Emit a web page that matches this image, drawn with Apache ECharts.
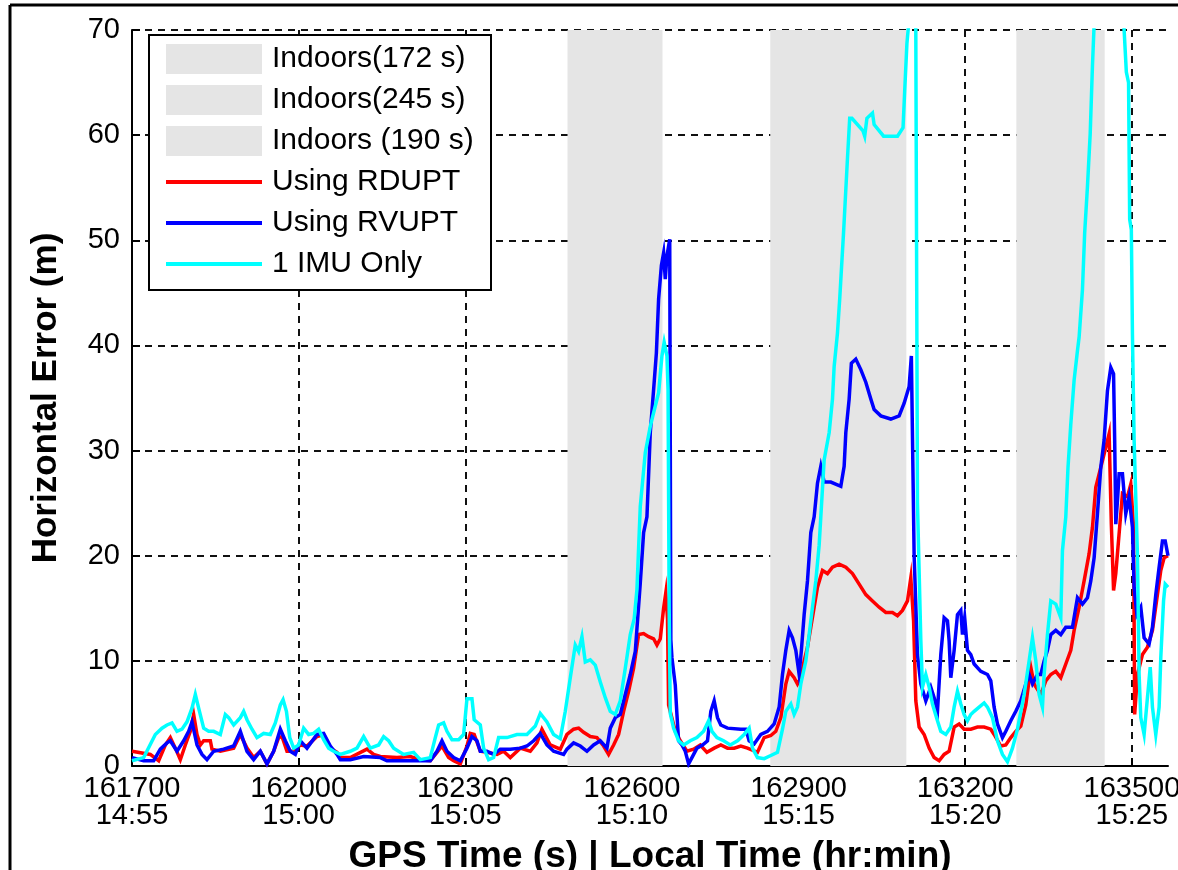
<!DOCTYPE html>
<html>
<head>
<meta charset="utf-8">
<script src="https://cdn.jsdelivr.net/npm/echarts@6/dist/echarts.min.js"></script>
<style>
html,body{margin:0;padding:0;background:#fff;}
#chart{width:1178px;height:870px;}
</style>
</head>
<body>
<div id="chart"></div>
<script>
// ---- tick labels ----
const xTicks = [161700, 162000, 162300, 162600, 162900, 163200, 163500];
const localTimes = ['14:55', '15:00', '15:05', '15:10', '15:15', '15:20', '15:25'];

// ---- indoor periods (GPS s) ----
const indoorNames = ['Indoors(172 s)', 'Indoors(245 s)', 'Indoors (190 s)'];
const indoorIntervals = [[162484, 162655], [162849, 163094], [163292, 163451]];

// ---- series names ----
const lineNames = ['Using RDUPT', 'Using RVUPT', '1 IMU Only'];

// ---- Using RDUPT: [GPS time, horizontal error] ----
const rdupt = [
[161700,1.4],[161733,1.1],[161748,0.5],[161760,2.0],[161769,2.7],[161778,1.7],[161787,0.6],[161796,2.0],[161805,3.3],[161811,4.9],[161817,3.0],[161823,2.0],[161829,2.4],[161841,2.4],[161844,1.6],[161859,1.4],[161883,1.7],[161895,3.0],[161907,1.7],[161919,0.8],[161931,1.4],[161943,0.2],[161955,1.4],[161964,2.7],[161970,2.8],[161979,1.4],[161991,1.4],[162003,2.0],[162015,1.9],[162033,2.8],[162045,3.0],[162057,1.7],[162069,1.3],
[162075,0.8],[162093,0.8],[162123,1.6],[162135,1.1],[162147,0.9],[162177,0.8],[162201,0.9],[162219,0.6],[162237,0.5],[162249,1.3],[162258,1.9],[162270,0.8],[162279,0.5],[162291,0.2],[162303,1.9],[162309,3.1],[162316,3.0],[162327,1.4],[162339,1.3],[162357,1.1],[162369,1.4],[162381,0.8],[162399,1.7],[162417,1.4],[162429,2.2],[162438,3.5],[162453,2.0],[162471,1.6],
[162483,3.0],[162495,3.5],[162504,3.6],[162513,3.2],[162525,2.8],[162537,2.7],[162549,1.9],[162558,1.1],[162567,2.0],[162576,3.0],[162585,5.2],[162594,7.1],[162603,9.3],[162612,12.5],[162621,12.6],[162630,12.3],[162639,12.1],[162645,11.5],[162651,12.1],[162657,15.0],[162661,16.5],[162664,14.0],[162666,5.8],[162678,3.3],[162687,2.4],[162699,1.4],[162711,1.6],[162723,2.0],[162735,1.3],[162748,1.7],[162760,2.0],[162772,1.7],[162784,1.7],[162796,1.9],
[162808,1.7],[162826,1.3],[162838,2.7],[162850,2.9],[162859,3.3],[162868,4.6],[162877,7.8],[162883,9.0],[162892,8.4],[162898,7.8],[162904,8.4],[162910,10.0],[162916,11.3],[162922,13.2],[162928,15.1],[162934,17.0],[162943,18.6],[162952,18.3],[162961,18.9],[162973,19.2],[162985,18.9],[162997,18.3],[163009,17.3],[163021,16.3],[163033,15.7],[163045,15.1],[163057,14.6],[163069,14.6],[163078,14.3],[163087,14.8],[163096,15.7],[163102,17.9],[163107,13.8],[163111,6.2],[163117,3.7],[163126,3.0],[163135,1.7],[163144,0.8],[163153,0.5],[163162,1.1],[163171,1.4],[163180,3.7],[163189,4.0],[163198,3.5],[163210,3.5],[163222,3.7],[163234,3.7],[163246,3.5],[163252,3.0],[163264,1.9],[163273,2.0],[163282,2.7],[163291,3.3],[163300,3.8],[163309,5.8],[163318,9.4],[163324,7.8],[163336,6.8],[163345,8.1],[163354,8.7],[163363,9.0],[163372,8.4],[163381,9.7],[163390,11.0],[163396,12.9],[163405,15.1],[163414,17.6],[163423,20.2],[163429,22.7],[163435,26.5],[163444,28.4],[163453,30.3],[163459,31.6],[163463,23.0],[163467,16.7],[163471,18.3],[163474,20.2],[163483,25.9],[163492,25.6],[163498,26.8],[163503,22.7],[163505,4.9],[163510,8.7],[163519,10.6],[163528,11.3],[163537,12.9],[163546,16.3],[163552,18.6],[163558,19.8],[163565,20.0]
];

// ---- Using RVUPT ----
const rvupt = [
[161700,0.8],[161721,0.5],[161739,0.5],[161751,1.6],[161763,2.2],[161769,2.4],[161781,1.4],[161793,2.4],[161802,3.3],[161808,4.2],[161817,2.0],[161826,1.1],[161835,0.6],[161847,1.4],[161865,1.6],[161883,1.9],[161895,3.3],[161907,1.4],[161919,0.6],[161931,1.4],[161943,0.2],[161955,1.4],[161967,3.5],[161976,2.4],[161985,1.4],[161994,1.1],[162003,2.4],[162015,1.7],[162033,3.0],[162045,3.1],[162057,1.9],[162069,1.1],
[162075,0.6],[162093,0.6],[162117,0.9],[162147,0.8],[162159,0.5],[162177,0.5],[162207,0.5],[162237,0.5],[162249,1.4],[162258,2.4],[162267,1.4],[162279,0.8],[162291,0.5],[162303,1.7],[162312,2.8],[162321,2.4],[162327,1.4],[162339,1.4],[162351,1.1],[162363,1.6],[162381,1.6],[162399,1.7],[162411,1.9],[162423,2.4],[162435,3.1],[162447,2.0],[162459,1.4],[162477,1.1],
[162483,1.6],[162495,2.2],[162507,1.9],[162519,1.4],[162531,2.0],[162543,2.4],[162555,1.7],[162561,3.6],[162570,4.6],[162579,4.9],[162588,6.8],[162597,8.7],[162606,10.9],[162615,17.4],[162621,22.2],[162627,23.7],[162633,31.7],[162639,35.8],[162644,39.3],[162648,44.4],[162653,47.6],[162657,48.8],[162660,46.3],[162663,48.5],[162668,50.1],[162670,12.0],[162672,10.3],[162678,7.7],[162681,4.9],[162684,2.4],[162690,2.0],[162696,1.4],[162702,0.2],[162708,0.8],[162717,1.7],[162727,2.0],[162736,2.4],[162742,5.2],[162748,6.2],[162754,4.6],[162760,3.9],[162772,3.6],[162796,3.5],[162805,3.5],[162811,2.4],[162820,2.1],[162832,3.0],[162844,3.3],[162856,4.0],[162865,5.6],[162871,8.7],[162877,11.0],[162883,12.9],[162889,12.2],[162895,11.0],[162901,8.7],[162905,11.0],[162910,14.4],[162916,17.6],[162922,22.2],[162928,23.7],[162934,26.9],[162940,28.5],[162946,27.0],[162958,27.0],[162976,26.6],[162982,28.5],[162985,31.7],[162991,34.9],[162995,38.3],[163003,38.7],[163012,37.7],[163021,36.5],[163030,34.9],[163036,33.9],[163048,33.3],[163066,33.0],[163081,33.3],[163090,34.5],[163099,36.1],[163103,39.0],[163108,20.0],[163114,10.6],[163120,7.8],[163129,6.2],[163138,7.5],[163144,6.5],[163150,5.2],[163156,10.6],[163162,14.1],[163168,13.8],[163171,11.9],[163174,8.4],[163180,11.0],[163186,14.4],[163192,14.8],[163195,12.5],[163199,14.1],[163204,11.0],[163210,10.6],[163216,9.7],[163228,9.0],[163240,8.7],[163246,8.1],[163252,5.6],[163258,4.0],[163267,2.7],[163273,3.3],[163282,4.3],[163291,5.2],[163300,6.2],[163309,7.8],[163315,8.7],[163321,7.8],[163330,8.7],[163336,8.7],[163342,10.0],[163348,11.0],[163354,12.5],[163363,12.9],[163372,12.5],[163381,13.2],[163393,13.2],[163402,16.0],[163411,15.4],[163420,16.0],[163426,17.6],[163432,19.8],[163438,24.0],[163444,28.4],[163450,31.0],[163456,35.7],[163462,37.9],[163467,37.3],[163469,31.0],[163471,23.0],[163474,25.2],[163477,27.8],[163483,27.8],[163489,24.0],[163495,25.6],[163501,22.7],[163504,17.0],[163509,14.4],[163516,15.1],[163522,12.2],[163531,11.6],[163537,13.2],[163543,16.3],[163549,18.9],[163555,21.4],[163560,21.4],[163565,20.0]
];

// ---- 1 IMU Only ----
const imuOnly = [
[161700,0.5],[161721,0.8],[161742,3.0],[161754,3.6],[161763,3.9],[161772,4.1],[161781,3.3],[161790,3.5],[161799,4.2],[161808,5.5],[161814,6.8],[161820,5.5],[161829,3.6],[161838,3.3],[161847,3.3],[161859,3.0],[161868,4.9],[161874,4.6],[161883,3.9],[161895,4.6],[161901,5.2],[161907,4.4],[161916,3.5],[161925,2.7],[161937,3.1],[161949,3.0],[161958,4.1],[161967,5.8],[161972,6.3],[161978,5.2],[161984,2.7],[161991,1.7],[162000,2.0],[162009,3.6],[162018,3.0],[162027,3.1],[162036,3.5],[162045,2.5],[162054,1.7],[162063,1.4],[162075,1.1],[162093,1.4],[162105,1.7],[162117,2.8],[162129,1.7],[162144,2.0],[162153,2.8],[162162,2.4],[162171,1.7],[162189,1.1],[162207,1.3],[162219,0.6],[162237,0.8],[162246,2.7],[162252,3.9],[162261,4.1],[162267,3.3],[162276,2.5],[162288,2.5],[162297,3.0],[162303,6.4],[162312,6.4],[162316,4.4],[162327,3.9],[162333,1.7],[162342,0.6],[162351,0.8],[162360,2.7],[162375,2.7],[162393,3.0],[162411,3.0],[162426,3.8],[162435,5.0],[162447,4.2],[162459,3.0],[162471,2.6],[162480,5.2],[162489,8.4],[162498,11.5],[162504,10.9],[162510,12.3],[162516,9.9],[162525,10.1],[162534,9.6],[162543,8.0],[162552,6.5],[162561,5.2],[162570,4.9],[162579,6.2],[162588,9.3],[162597,12.5],[162604,14.0],[162609,16.8],[162615,24.7],[162624,29.8],[162633,32.3],[162639,33.6],[162648,35.5],[162654,39.0],[162658,40.3],[162663,39.0],[162665,35.8],[162667,15.0],[162669,5.0],[162675,3.6],[162684,2.4],[162693,2.0],[162705,2.4],[162717,2.7],[162729,3.3],[162738,4.3],[162744,3.3],[162753,2.7],[162765,2.4],[162777,2.0],[162790,2.4],[162802,3.0],[162811,3.6],[162817,1.7],[162826,0.8],[162838,0.7],[162850,1.0],[162862,1.3],[162871,3.5],[162877,5.2],[162886,5.9],[162892,4.9],[162898,5.6],[162904,7.8],[162913,10.0],[162919,12.5],[162925,15.1],[162931,17.6],[162937,21.0],[162940,23.7],[162946,29.1],[162955,31.7],[162961,34.9],[162964,38.0],[162970,41.2],[162974,44.4],[162981,50.8],[162988,57.8],[162992,61.6],[162996,61.6],[163016,60.4],[163019,59.9],[163023,61.6],[163033,62.1],[163036,61.0],[163053,59.9],[163078,59.9],[163088,60.7],[163091,64.2],[163095,68.7],[163098,70.5],[163104,95.0],[163111,70.0],[163114,25.0],[163120,12.0],[163123,7.5],[163129,8.7],[163135,7.5],[163141,5.9],[163150,4.3],[163156,3.3],[163165,3.0],[163174,3.7],[163180,5.6],[163186,7.1],[163192,5.9],[163198,4.9],[163204,4.3],[163210,4.9],[163216,5.2],[163225,5.6],[163234,6.0],[163240,5.6],[163249,4.6],[163258,2.4],[163267,1.1],[163276,0.4],[163285,1.7],[163294,3.5],[163306,6.8],[163315,10.0],[163321,12.2],[163327,10.0],[163333,6.8],[163339,5.6],[163342,8.7],[163348,12.5],[163354,15.7],[163363,15.4],[163372,14.1],[163375,20.5],[163381,23.7],[163385,28.4],[163390,32.5],[163396,36.7],[163402,39.5],[163405,40.8],[163411,45.3],[163415,50.7],[163420,55.1],[163425,60.2],[163429,66.6],[163432,70.5],[163445,90.0],[163475,90.0],[163486,70.0],[163490,66.0],[163494,65.0],[163496,52.0],[163499,51.0],[163501,41.0],[163504,31.0],[163510,20.0],[163513,8.7],[163516,4.6],[163522,3.0],[163528,6.5],[163533,9.4],[163537,5.6],[163543,3.0],[163549,5.6],[163552,10.3],[163557,15.7],[163560,17.3],[163565,17.0]
];

const FONT = '"Liberation Sans", Arial, Helvetica, sans-serif';
const GRAY = '#e5e5e5';
const lineColors = ['#ff0000', '#0000ff', '#00ffff'];
const lineData = [rdupt, rvupt, imuOnly];

const chart = echarts.init(document.getElementById('chart'), null, {renderer: 'canvas'});

const series = [];
indoorNames.forEach((name, i) => {
  series.push({
    name: name,
    type: 'line',
    data: [],
    color: GRAY,
    z: 2,
    silent: true,
    markArea: {
      silent: true,
      z: 2,
      itemStyle: {color: GRAY, opacity: 1, borderWidth: 0},
      data: [[{xAxis: indoorIntervals[i][0]}, {xAxis: indoorIntervals[i][1]}]]
    }
  });
});
lineNames.forEach((name, i) => {
  series.push({
    name: name,
    type: 'line',
    data: lineData[i],
    color: lineColors[i],
    showSymbol: false,
    symbol: 'none',
    z: 5 + i,
    lineStyle: {width: 3.5, color: lineColors[i], join: 'miter'},
    animation: false
  });
});

const legendText = {fontSize: 30, lineHeight: 30, fontFamily: FONT, color: '#000', padding: [0, 0, 0, 5]};

const option = {
  animation: false,
  backgroundColor: '#ffffff',
  grid: {left: 132, right: 10, top: 30, bottom: 104, containLabel: false, outerBoundsMode: 'none'},
  xAxis: {
    type: 'value',
    min: 161700,
    max: 163565,
    interval: 300,
    z: 0,
    name: 'GPS Time (s) | Local Time (hr:min)',
    nameLocation: 'middle',
    nameGap: 72,
    nameTextStyle: {fontSize: 37, fontWeight: 'bold', fontFamily: FONT, color: '#000'},
    axisLine: {show: true, lineStyle: {color: '#000', width: 2}},
    axisTick: {show: true, inside: true, length: 8, lineStyle: {color: '#000', width: 2}},
    axisLabel: {
      margin: 9,
      fontSize: 29,
      lineHeight: 27,
      fontFamily: FONT,
      color: '#000',
      showMaxLabel: false,
      formatter: function (v) {
        const i = xTicks.indexOf(v);
        return i < 0 ? '' : v + '\n' + localTimes[i];
      }
    },
    splitLine: {show: true, showMinLine: false, showMaxLine: false, lineStyle: {color: '#111', width: 2, type: [7, 6]}}
  },
  yAxis: {
    type: 'value',
    min: 0,
    max: 70,
    interval: 10,
    z: 0,
    name: 'Horizontal Error (m)',
    nameLocation: 'middle',
    nameGap: 68,
    nameTextStyle: {fontSize: 35, fontWeight: 'bold', fontFamily: FONT, color: '#000'},
    axisLine: {show: true, lineStyle: {color: '#000', width: 2}},
    axisTick: {show: true, inside: true, length: 8, lineStyle: {color: '#000', width: 2}},
    axisLabel: {margin: 12, fontSize: 29, fontFamily: FONT, color: '#000'},
    splitLine: {show: true, showMinLine: false, lineStyle: {color: '#111', width: 2, type: [7, 6]}}
  },
  legend: [
    {
      data: indoorNames.map(n => ({name: n, icon: 'rect'})),
      orient: 'vertical',
      left: 166, top: 44, padding: 0,
      itemWidth: 96, itemHeight: 30, itemGap: 11,
      selectedMode: false, z: 20,
      textStyle: legendText
    },
    {
      data: lineNames.map(n => ({name: n, icon: 'rect'})),
      orient: 'vertical',
      left: 166, top: 167, padding: 0,
      itemWidth: 96, itemHeight: 4, itemGap: 11,
      selectedMode: false, z: 20,
      textStyle: legendText
    }
  ],
  graphic: [
    {type: 'rect', z: 10, shape: {x: 149, y: 35, width: 342, height: 255},
     style: {fill: '#fff', stroke: '#000', lineWidth: 2}},
    {type: 'line', z: 10, shape: {x1: 10, y1: 5, x2: 1178, y2: 5}, style: {stroke: '#000', lineWidth: 3}},
    {type: 'line', z: 10, shape: {x1: 10, y1: 5, x2: 10, y2: 870}, style: {stroke: '#000', lineWidth: 3}}
  ],
  series: series
};

chart.setOption(option);
</script>
</body>
</html>
